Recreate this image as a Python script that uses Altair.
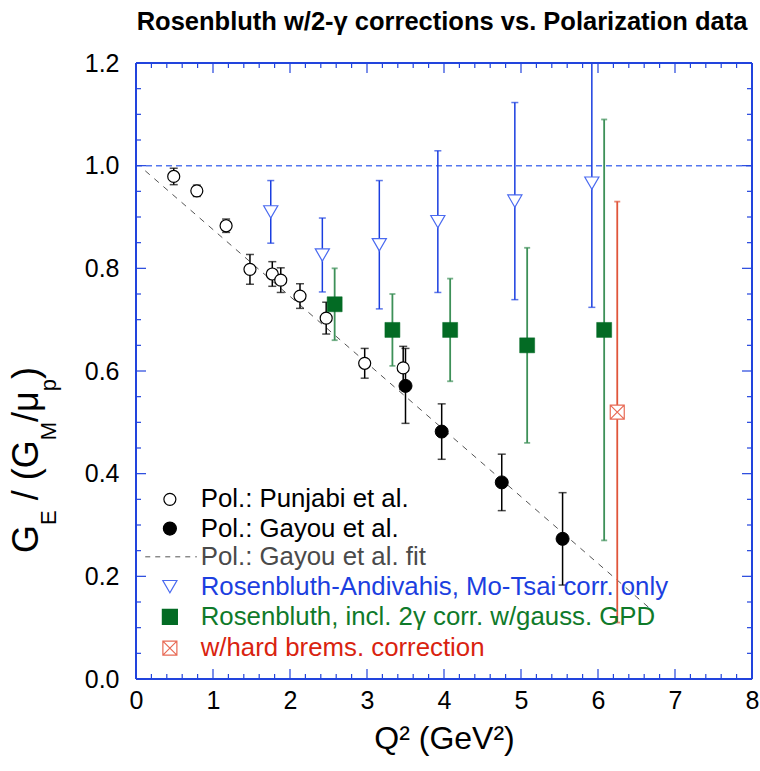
import altair as alt
import pandas as pd
import numpy as np

# ---------------- data ----------------
pun_q2 = [0.49, 0.79, 1.17, 1.48, 1.77, 1.88, 2.13, 2.47, 2.97, 3.47]
pun_r = [0.979, 0.951, 0.883, 0.798, 0.789, 0.777, 0.746, 0.703, 0.615, 0.606]
pun_err = [0.016, 0.011, 0.013, 0.029, 0.024, 0.024, 0.024, 0.031, 0.029, 0.042]

gay_q2 = [3.50, 3.97, 4.75, 5.54]
gay_r = [0.571, 0.482, 0.383, 0.273]
gay_err = [0.073, 0.054, 0.055, 0.090]

fit_q2 = [0.12, 6.70]
fit_r = [0.990, 0.134]

and_q2 = [1.75, 2.42, 3.16, 3.92, 4.92, 5.92]
and_r = [0.910, 0.826, 0.846, 0.891, 0.931, 0.966]
and_err = [0.061, 0.072, 0.125, 0.138, 0.192, 0.242]

gpd_q2 = [2.58, 3.33, 4.08, 5.08, 6.08]
gpd_r = [0.730, 0.680, 0.680, 0.650, 0.680]
gpd_err = [0.070, 0.070, 0.100, 0.190, 0.410]

brems_q2 = [6.25]
brems_r = [0.520]
brems_err = [0.410]

legend_labels = [
    "Pol.: Punjabi et al.",
    "Pol.: Gayou et al.",
    "Pol.: Gayou et al. fit",
    "Rosenbluth-Andivahis, Mo-Tsai corr. only",
    "Rosenbluth, incl. 2\u03b3 corr. w/gauss. GPD",
    "w/hard brems. correction",
]
legend_colors = ["#000000", "#000000", "#4a4a4a", "#1c3fe0", "#0f7a2a", "#d9230f"]

x_major = [0, 1, 2, 3, 4, 5, 6, 7, 8]
y_major = [0.0, 0.2, 0.4, 0.6, 0.8, 1.0, 1.2]

TITLE = "Rosenbluth w/2-\u03b3 corrections vs. Polarization data"
FONT = "Liberation Sans"
AXIS_BLUE = "#2244dd"
W = H = 616

xs = alt.Scale(domain=[0, 8], nice=False, zero=False)
ys = alt.Scale(domain=[0, 1.2], nice=False, zero=False)


def frame(q, r, e):
    q = np.asarray(q, float)
    r = np.asarray(r, float)
    e = np.asarray(e, float)
    return pd.DataFrame({"q": q, "r": r, "lo": r - e, "hi": r + e})


def errbars(df, color, width=1.5, cap=8):
    bars = alt.Chart(df).mark_rule(color=color, strokeWidth=width, clip=True).encode(
        x=alt.X("q:Q", scale=xs),
        y=alt.Y("lo:Q", scale=ys),
        y2="hi:Q",
    )
    lo = alt.Chart(df).mark_tick(color=color, orient="horizontal", size=cap, thickness=width, clip=True).encode(
        x=alt.X("q:Q", scale=xs), y=alt.Y("lo:Q", scale=ys))
    hi = alt.Chart(df).mark_tick(color=color, orient="horizontal", size=cap, thickness=width, clip=True).encode(
        x=alt.X("q:Q", scale=xs), y=alt.Y("hi:Q", scale=ys))
    return bars + lo + hi


def points(df, shape, size, fill, stroke, sw=1.2):
    return alt.Chart(df).mark_point(shape=shape, size=size, fill=fill, stroke=stroke,
                                    strokeWidth=sw, opacity=1, filled=True).encode(
        x=alt.X("q:Q", scale=xs), y=alt.Y("r:Q", scale=ys))


pun = frame(pun_q2, pun_r, pun_err)
gay = frame(gay_q2, gay_r, gay_err)
andv = frame(and_q2, and_r, and_err)
gpd = frame(gpd_q2, gpd_r, gpd_err)
brm = frame(brems_q2, brems_r, brems_err)
fit = pd.DataFrame({"q": fit_q2, "r": fit_r})

BOXX = "M-1,-1L1,-1L1,1L-1,1Z M-1,-1L1,1 M1,-1L-1,1"

layers = []

# axes with tick labels only (ticks are drawn inward below)
base = alt.Chart(pd.DataFrame({"q": [0.0], "r": [0.0]})).mark_point(opacity=0).encode(
    x=alt.X("q:Q", scale=xs, axis=alt.Axis(values=x_major, format="d", title="Q\u00b2 (GeV\u00b2)", ticks=False,
                                          domain=False, grid=False, labelFont=FONT, labelFontSize=25,
                                          labelColor="#000", labelPadding=9, titleFont=FONT, titleFontSize=32,
                                          titleFontWeight="normal", titleColor="#000", titlePadding=10,
                                          labelFlush=False, labelOverlap=False)),
    y=alt.Y("r:Q", scale=ys, axis=alt.Axis(values=y_major, format=".1f", title=None, ticks=False, domain=False,
                                          grid=False, labelFont=FONT, labelFontSize=25, labelColor="#000",
                                          labelPadding=17, labelFlush=False, labelOverlap=False)),
)
layers.append(base)

# reference line at 1.0
ref = alt.Chart(pd.DataFrame({"r": [1.0]})).mark_rule(color="#5577ee", strokeDash=[6, 4], strokeWidth=1.5).encode(
    y=alt.Y("r:Q", scale=ys))
layers.append(ref)

# fit line
layers.append(alt.Chart(fit).mark_line(color="#555555", strokeDash=[6, 6], strokeWidth=1).encode(
    x=alt.X("q:Q", scale=xs), y=alt.Y("r:Q", scale=ys)))

# error bars
layers.append(errbars(pun, "#000000", 1.5, 8))
layers.append(errbars(gay, "#000000", 1.5, 8))
layers.append(errbars(andv, "#1a3ee0", 1.5, 7))
layers.append(errbars(gpd, "#3d9058", 1.8, 6))
layers.append(errbars(brm, "#e0553a", 1.8, 6))

# markers
layers.append(points(pun, "circle", 144, "#ffffff", "#000000", 1.2))
layers.append(points(gay, "circle", 169, "#000000", "#000000", 1))
layers.append(points(andv, "triangle-down", 200, "#ffffff", "#4a6af0", 1.2))
layers.append(points(gpd, "square", 225, "#036b24", "#036b24", 0.5))
layers.append(points(brm, BOXX, 196, "#ffffff", "#e86a55", 1.2))

# ---------------- frame and inward ticks on all four sides ----------------
one = pd.DataFrame({"k": [0]})
for (x0, x1, y0, y1) in [(0, W, 0, 0), (0, W, H, H), (0, 0, 0, H), (W, W, 0, H)]:
    layers.append(alt.Chart(one).mark_rule(color=AXIS_BLUE, strokeWidth=2).encode(
        x=alt.value(x0), x2=alt.value(x1), y=alt.value(y0), y2=alt.value(y1)))

x_minor = [v for v in np.round(np.arange(0, 8.0001, 0.2), 3) if abs(v - round(v)) > 1e-6]
y_minor = [v for v in np.round(np.arange(0, 1.2001, 0.05), 3) if min(abs(v - m) for m in y_major) > 1e-6]


def xticks(vals, length, top):
    y0 = 0 if top else H
    y1 = length if top else H - length
    return alt.Chart(pd.DataFrame({"q": vals})).mark_rule(color=AXIS_BLUE, strokeWidth=1.2).encode(
        x=alt.X("q:Q", scale=xs), y=alt.value(y0), y2=alt.value(y1))


def yticks(vals, length, right):
    x0 = W if right else 0
    x1 = W - length if right else length
    return alt.Chart(pd.DataFrame({"r": vals})).mark_rule(color=AXIS_BLUE, strokeWidth=1.2).encode(
        y=alt.Y("r:Q", scale=ys), x=alt.value(x0), x2=alt.value(x1))


for top in (False, True):
    layers.append(xticks(x_major, 10, top))
    layers.append(xticks(x_minor, 5, top))
for right in (False, True):
    layers.append(yticks(y_major, 10, right))
    layers.append(yticks(y_minor, 5, right))

# ---------------- legend (inside plot, lower left) ----------------
leg_y = [0.350, 0.293, 0.238, 0.180, 0.121, 0.060]
leg_x_sym = 0.44
leg_x_txt = 0.84
leg = pd.DataFrame({"label": legend_labels, "color": legend_colors, "r": leg_y, "q": leg_x_txt})
layers.append(alt.Chart(leg).mark_text(align="left", baseline="middle", font=FONT, fontSize=25.8).encode(
    x=alt.X("q:Q", scale=xs), y=alt.Y("r:Q", scale=ys), text="label:N",
    color=alt.Color("color:N", scale=None)))

sym = pd.DataFrame({
    "q": [leg_x_sym] * 5,
    "r": [leg_y[0], leg_y[1], leg_y[3], leg_y[4], leg_y[5]],
    "shape": ["circle", "circle", "triangle-down", "square", BOXX],
    "fill": ["#ffffff", "#000000", "#ffffff", "#036b24", "#ffffff"],
    "stroke": ["#000000", "#000000", "#4a6af0", "#036b24", "#e86a55"],
    "size": [144, 169, 200, 225, 196],
})
layers.append(alt.Chart(sym).mark_point(filled=True, opacity=1, strokeWidth=1.2).encode(
    x=alt.X("q:Q", scale=xs), y=alt.Y("r:Q", scale=ys),
    shape=alt.Shape("shape:N", scale=None),
    fill=alt.Fill("fill:N", scale=None),
    stroke=alt.Stroke("stroke:N", scale=None),
    size=alt.Size("size:Q", scale=None)))

leg_line = pd.DataFrame({"q": [0.12], "q2": [0.79], "r": [leg_y[2]]})
layers.append(alt.Chart(leg_line).mark_rule(color="#555555", strokeDash=[5, 5], strokeWidth=1).encode(
    x=alt.X("q:Q", scale=xs), x2="q2:Q", y=alt.Y("r:Q", scale=ys)))

# ---------------- title ----------------
layers.append(alt.Chart(pd.DataFrame({"t": [TITLE]})).mark_text(
    font=FONT, fontSize=25.5, fontWeight="bold", align="center", baseline="middle", color="#000").encode(
    x=alt.value(W / 2 - 2), y=alt.value(-41), text="t:N"))

# ---------------- y-axis title with subscripts (rotated) ----------------
EM = {"G": 0.778, "E": 0.667, "/": 0.278, "(": 0.333, ")": 0.333, "M": 0.833, "\u03bc": 0.576, "p": 0.556, "_": 0.278}
pieces = [("G", 0), ("E", 1), ("_", 0), ("/", 0), ("_", 0), ("(", 0), ("G", 0), ("M", 1), ("/", 0),
          ("\u03bc", 0), ("p", 1), (")", 0)]
MAIN, SUB = 36, 22
base_x = 38 - 136
sub_x = base_x + 18
ypos = 553 - 63
for txt, sub in pieces:
    fs = SUB if sub else MAIN
    if txt != "_":
        layers.append(alt.Chart(pd.DataFrame({"t": [txt]})).mark_text(
            font=FONT, fontSize=fs, angle=270, align="left", baseline="alphabetic", color="#000").encode(
            x=alt.value(sub_x if sub else base_x), y=alt.value(ypos), text="t:N"))
    ypos -= EM[txt] * fs

chart = alt.layer(*layers).properties(
    width=W, height=H,
    autosize=alt.AutoSizeParams(type="none"),
    padding={"left": 136, "top": 63, "right": 8, "bottom": 92},
).configure_view(stroke=None).configure(background="#ffffff")

chart.save("out.html", embed_options={"renderer": "svg", "actions": False})
